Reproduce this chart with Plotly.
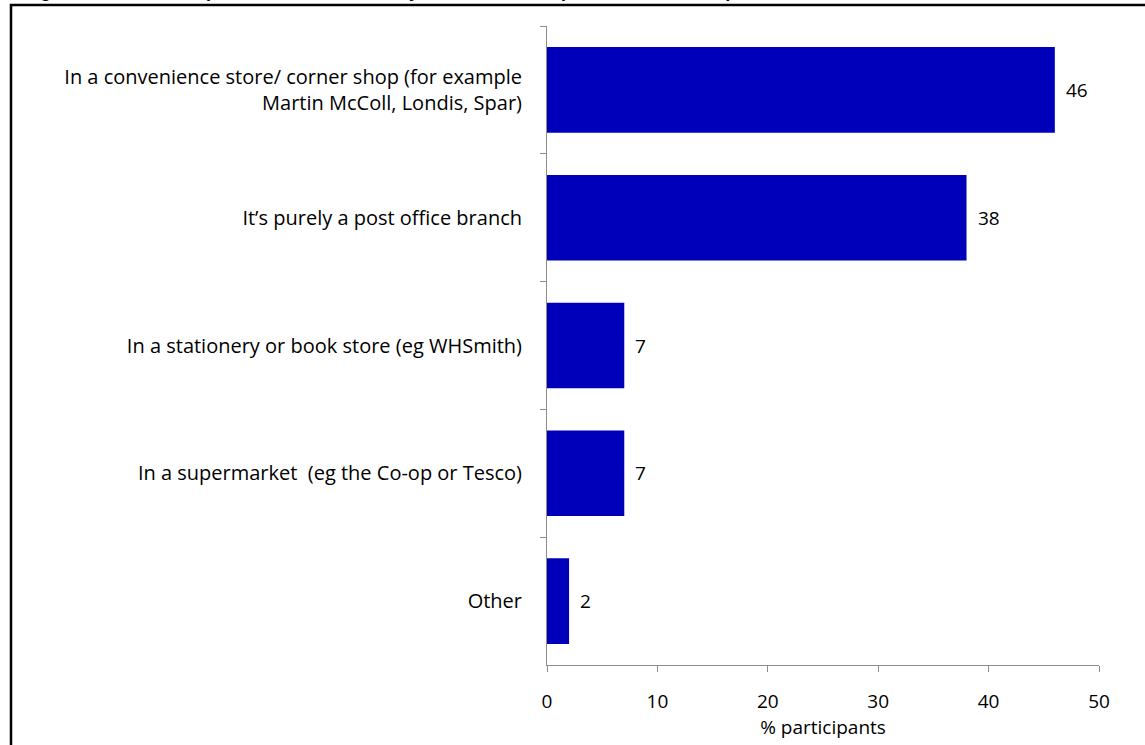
import plotly.graph_objects as go

# Where the branch is located (% participants)
categories = [
    "In a convenience store/ corner shop (for example<br>Martin McColl, Londis, Spar)",
    "It\u2019s purely a post office branch",
    "In a stationery or book store (eg WHSmith)",
    "In a supermarket  (eg the Co-op or Tesco)",
    "Other",
]
values = [46, 38, 7, 7, 2]
x_ticks = [0, 10, 20, 30, 40, 50]

FONT = "'Open Sans', sans-serif"
FS = 20
W, H = 1145, 745
L, R, T, B = 547, 46, 26, 80
pw, ph = W - L - R, H - T - B


def px_x(px):
    return (px - L) / pw


def px_y(py):
    return (H - B - py) / ph


fig = go.Figure(
    go.Bar(
        x=values,
        y=categories,
        orientation="h",
        marker=dict(color="#0000BA", line=dict(width=0)),
        hoverinfo="x+y",
    )
)

fig.update_layout(
    width=W,
    height=H,
    margin=dict(l=L, r=R, t=T, b=B, pad=0),
    paper_bgcolor="white",
    plot_bgcolor="white",
    bargap=0.33,
    showlegend=False,
    font=dict(family=FONT, size=FS, color="#000000"),
    xaxis=dict(
        range=[0, 50],
        tickvals=x_ticks,
        ticktext=[str(t) for t in x_ticks],
        showgrid=False,
        zeroline=False,
        showline=True,
        linecolor="#8c8c8c",
        linewidth=1,
        ticks="outside",
        ticklen=6,
        tickcolor="#8c8c8c",
        ticklabelstandoff=13,
        tickfont=dict(family=FONT, size=FS - 1),
        title=dict(text="% participants", font=dict(family=FONT, size=FS - 1), standoff=6),
    ),
    yaxis=dict(
        autorange="reversed",
        showgrid=False,
        zeroline=False,
        showline=True,
        linecolor="#8c8c8c",
        linewidth=1,
        ticks="outside",
        ticklen=6,
        tickcolor="#8c8c8c",
        tickson="boundaries",
        ticklabelstandoff=20,
        tickfont=dict(family=FONT, size=FS),
    ),
    shapes=[
        dict(
            type="rect",
            xref="paper",
            yref="paper",
            x0=px_x(11),
            x1=px_x(W + 20),
            y0=px_y(H + 20),
            y1=px_y(5),
            line=dict(color="#000000", width=2.5),
            fillcolor="rgba(0,0,0,0)",
            layer="below",
        )
    ],
)

# value labels just past the end of each bar
for cat, v in zip(categories, values):
    fig.add_annotation(
        x=v,
        y=cat,
        text=str(v),
        xanchor="left",
        yanchor="middle",
        xshift=9,
        showarrow=False,
        font=dict(family=FONT, size=FS - 1, color="#000000"),
    )

# figure caption running off the top edge
fig.add_annotation(
    text="<b>Figure 5    Where the post office most recently used is located (all who had used it)</b>",
    xref="paper",
    yref="paper",
    x=px_x(22),
    y=px_y(3),
    xanchor="left",
    yanchor="bottom",
    showarrow=False,
    font=dict(family="Liberation Sans, Arial, sans-serif", size=18, color="#000000"),
)

fig.write_html("out.html")
